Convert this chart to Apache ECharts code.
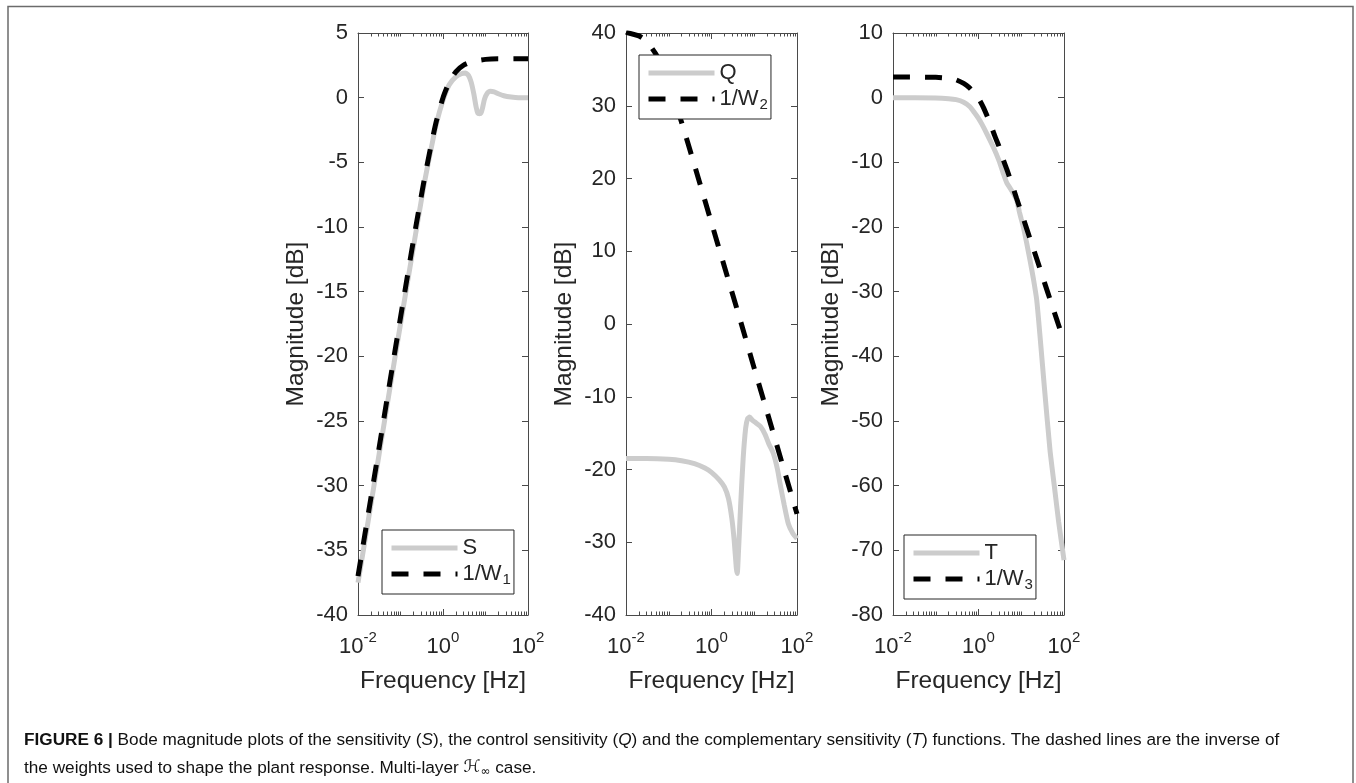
<!DOCTYPE html>
<html><head><meta charset="utf-8">
<script src="https://cdn.jsdelivr.net/npm/echarts@6/dist/echarts.min.js"></script>
<style>html,body{margin:0;padding:0;background:#fff}#c{width:1356px;height:783px}</style>
</head><body><div id="c"></div>
<script>
// ---- data (frequency in Hz, magnitude in dB) ----
const freqS  = [0.01,0.02,0.05,0.1,0.2,0.35,0.5,0.7,1,1.4,2,2.7,3.4,4,4.6,5.3,6,6.6,7.2,7.8,8.5,9.5,11,13,16,20,27,40,60,100];
const magS   = [-37.5,-31.5,-23.5,-17.5,-11.6,-6.9,-4.3,-2.0,-0.2,1.0,1.6,1.85,1.9,1.7,1.2,0.3,-0.7,-1.2,-1.25,-1.2,-0.8,-0.1,0.35,0.5,0.45,0.3,0.15,0.05,0.0,0.0];
const freqW1 = [0.01,0.02,0.05,0.1,0.2,0.35,0.5,0.7,1,1.4,2,3,5,10,20,50,100];
const magW1  = [-37.0,-31.0,-23.0,-17.0,-11.1,-6.6,-4.0,-1.8,0.0,1.2,2.0,2.5,2.8,2.96,3.0,3.0,3.0];

const freqQ  = [0.01,0.03,0.1,0.2,0.4,0.7,1.0,1.5,2.0,2.5,3.0,3.4,3.8,4.0,4.3,4.8,5.5,6.3,7.0,7.8,9,11,14,18,22,28,35,40,50,63,80,100];
const magQ   = [-18.5,-18.5,-18.6,-18.8,-19.2,-19.8,-20.4,-21.4,-22.4,-24.0,-26.8,-29.8,-33.5,-34.3,-31.0,-25.0,-18.5,-14.3,-13.0,-12.8,-13.2,-13.6,-14.1,-15.2,-16.5,-17.8,-20.0,-21.9,-24.8,-27.5,-28.8,-29.5];
const freqW2 = [0.01,0.02,0.03,0.05,0.07,0.1,0.15,0.2,0.3,0.5,1,2,5,10,20,50,100];
const magW2  = [40.1,39.6,38.9,37.1,35.3,33.0,30.0,27.7,24.3,19.9,13.9,7.9,0.0,-6.1,-12.1,-20.1,-26.1];

const freqT  = [0.01,0.1,0.2,0.3,0.45,0.63,0.8,1.0,1.2,1.6,2.2,3.0,3.8,4.6,5.5,6.5,7.8,9.0,10,11.2,13.5,16,19,23,28,35,47,60,75,100];
const magT   = [0,-0.05,-0.15,-0.3,-0.7,-1.4,-2.3,-3.2,-4.1,-5.7,-7.6,-9.7,-11.7,-13.2,-14.0,-14.8,-15.8,-17.6,-18.8,-20.0,-22.6,-25.1,-27.8,-31.3,-37.5,-45.0,-54.5,-60.3,-65.6,-71.5];
const freqW3 = [0.01,0.1,0.2,0.3,0.45,0.6,0.8,1.0,1.3,1.86,2.43,3.0,3.8,4.6,6.0,7.8,11.2,16,23,35,50,70,100];
const magW3  = [3.2,3.15,3.0,2.75,2.2,1.6,0.7,-0.1,-1.5,-3.9,-6.0,-7.5,-9.6,-11.1,-13.3,-15.6,-18.7,-21.8,-24.9,-28.6,-31.7,-34.6,-37.7];

const xMajorTicks = [0.01, 1, 100];
const yRanges = [ {min:-40, max:5, interval:5}, {min:-40, max:40, interval:10}, {min:-80, max:10, interval:10} ];
const seriesNames = [['S','1/W1'], ['Q','1/W2'], ['T','1/W3']];
const xTitle = 'Frequency [Hz]';
const yTitle = 'Magnitude [dB]';
const captionLine1 = '{b|FIGURE 6 |} Bode magnitude plots of the sensitivity ({i|S}), the control sensitivity ({i|Q}) and the complementary sensitivity ({i|T}) functions. The dashed lines are the inverse of';
const captionLine2 = 'the weights used to shape the plant response. Multi-layer {h|ℋ}{sub|∞} case.';

// ---- layout / styles ----
const FONT = "'Liberation Sans', Arial, Helvetica, sans-serif";
const INK = '#262626';
const AX = '#4a4a4a';
const GREY = '#cccccc';
const DASH = [17, 15];
const LW = 5;
const grids = [
  {left:358, top:33, width:170, height:582},
  {left:626, top:33, width:171, height:582},
  {left:893, top:33, width:171, height:582}
];
const legendPos = [ {left:382, top:530}, {left:639, top:55}, {left:904, top:535} ];

const xMinorTicks = [];
[0.01,0.1,1,10].forEach(d => { for (let k=1;k<=9;k++){ const v=+(d*k).toPrecision(3); if (xMajorTicks.indexOf(v)<0) xMinorTicks.push(v);} });

const xLabelRich = {
  b:{fontSize:22, fontFamily:FONT, color:INK, lineHeight:28, verticalAlign:'bottom'},
  s:{fontSize:15, fontFamily:FONT, color:INK, lineHeight:15, verticalAlign:'top'}
};

const xAxes = [], yAxes = [];
grids.forEach((g, gi) => {
  const base = {type:'log', logBase:10, gridIndex:gi, min:0.01, max:100, splitLine:{show:false}, minorTick:{show:false}, minorSplitLine:{show:false}};
  const line = {show:true, onZero:false, lineStyle:{color:AX, width:1}};
  const noLine = {show:false, onZero:false};
  xAxes.push(Object.assign({}, base, {
    position:'bottom', axisLine:line,
    axisTick:{show:true, inside:true, length:6, customValues:xMajorTicks, lineStyle:{color:AX}},
    axisLabel:{show:true, customValues:xMajorTicks, margin:15, formatter:(v)=>'{b|10}{s|'+Math.round(Math.log10(v))+'}', rich:xLabelRich},
    name:xTitle, nameLocation:'middle', nameGap:54,
    nameTextStyle:{fontSize:24.5, fontFamily:FONT, color:INK}
  }));
  xAxes.push(Object.assign({}, base, {
    position:'bottom', axisLine:noLine,
    axisTick:{show:true, inside:true, length:3.5, customValues:xMinorTicks, lineStyle:{color:AX}},
    axisLabel:{show:false}
  }));
  xAxes.push(Object.assign({}, base, {
    position:'top', axisLine:line,
    axisTick:{show:true, inside:true, length:6, customValues:xMajorTicks, lineStyle:{color:AX}},
    axisLabel:{show:false}
  }));
  xAxes.push(Object.assign({}, base, {
    position:'top', axisLine:noLine,
    axisTick:{show:true, inside:true, length:3.5, customValues:xMinorTicks, lineStyle:{color:AX}},
    axisLabel:{show:false}
  }));
  const r = yRanges[gi];
  yAxes.push({
    type:'value', gridIndex:gi, min:r.min, max:r.max, interval:r.interval, position:'left',
    axisLine:{show:true, onZero:false, lineStyle:{color:AX, width:1}},
    axisTick:{show:true, inside:true, length:6, lineStyle:{color:AX}},
    axisLabel:{show:true, margin:10, fontSize:22, fontFamily:FONT, color:INK},
    splitLine:{show:false},
    name:yTitle, nameLocation:'middle', nameGap:49,
    nameTextStyle:{fontSize:24.5, fontFamily:FONT, color:INK}
  });
  yAxes.push({
    type:'value', gridIndex:gi, min:r.min, max:r.max, interval:r.interval, position:'right',
    axisLine:{show:true, onZero:false, lineStyle:{color:AX, width:1}},
    axisTick:{show:true, inside:true, length:6, lineStyle:{color:AX}},
    axisLabel:{show:false}, splitLine:{show:false}
  });
});

const pairs = (f, v) => f.map((x, i) => [x, v[i]]);
const dataSets = [[pairs(freqS,magS), pairs(freqW1,magW1)], [pairs(freqQ,magQ), pairs(freqW2,magW2)], [pairs(freqT,magT), pairs(freqW3,magW3)]];

const series = [];
dataSets.forEach((ds, gi) => {
  series.push({
    name:seriesNames[gi][0], type:'line', xAxisIndex:4*gi, yAxisIndex:2*gi, data:ds[0],
    symbol:'none', showSymbol:false, smooth:0.2, z:2, clip:true,
    lineStyle:{color:GREY, width:LW}, itemStyle:{color:GREY}
  });
  series.push({
    name:seriesNames[gi][1], type:'line', xAxisIndex:4*gi, yAxisIndex:2*gi, data:ds[1],
    symbol:'none', showSymbol:false, smooth:0.2, z:3, clip:true,
    lineStyle:{color:'#000', width:LW, type:DASH, cap:'butt'}, itemStyle:{color:'#000'}
  });
});

const legends = legendPos.map((p, gi) => ({
  data:seriesNames[gi], orient:'vertical', left:p.left, top:p.top,
  padding:[7,3,7,7], itemWidth:66, itemHeight:14, itemGap:4,
  borderColor:INK, borderWidth:1, backgroundColor:'#fff', borderRadius:0,
  selectedMode:false,
  itemStyle:{opacity:0},
  lineStyle:{width:LW},
  textStyle:{fontSize:22, fontFamily:FONT, color:INK,
    rich:{
      n:{fontSize:22, fontFamily:FONT, color:INK, lineHeight:26, verticalAlign:'middle'},
      sub:{fontSize:15, fontFamily:FONT, color:INK, lineHeight:14, verticalAlign:'bottom', padding:[0,0,0,1]}
    }},
  formatter:(name)=> name.indexOf('1/W')===0 ? '{n|1/W}{sub|'+name.slice(3)+'}' : '{n|'+name+'}'
}));

const capFont = 17.2;
const capRich = {
  b:{fontWeight:'bold', fontSize:capFont, fontFamily:FONT, color:'#111', lineHeight:20},
  i:{fontStyle:'italic', fontSize:capFont, fontFamily:FONT, color:'#111', lineHeight:20},
  h:{fontSize:capFont, fontFamily:"'DejaVu Serif', 'DejaVu Sans', serif", fontStyle:'italic', color:'#111', lineHeight:20},
  sub:{fontSize:12, fontFamily:"'DejaVu Sans', sans-serif", color:'#111', padding:[8,0,0,0], lineHeight:12}
};

const option = {
  animation:false,
  backgroundColor:'#fff',
  grid:grids,
  xAxis:xAxes,
  yAxis:yAxes,
  legend:legends,
  series:series,
  graphic:[
    {type:'polyline', silent:true, shape:{points:[[8,800],[8,6.5],[1353,6.5],[1353,800]]}, style:{stroke:'#6b6b6b', lineWidth:1.5, fill:null}},
    {type:'text', left:24, top:732, style:{text:captionLine1, fontSize:capFont, fontFamily:FONT, fill:'#111', rich:capRich}},
    {type:'text', left:24, top:758, style:{text:captionLine2, fontSize:capFont, fontFamily:FONT, fill:'#111', rich:capRich}}
  ]
};

const chart = echarts.init(document.getElementById('c'), null, {renderer:'canvas'});
chart.setOption(option);
</script></body></html>
